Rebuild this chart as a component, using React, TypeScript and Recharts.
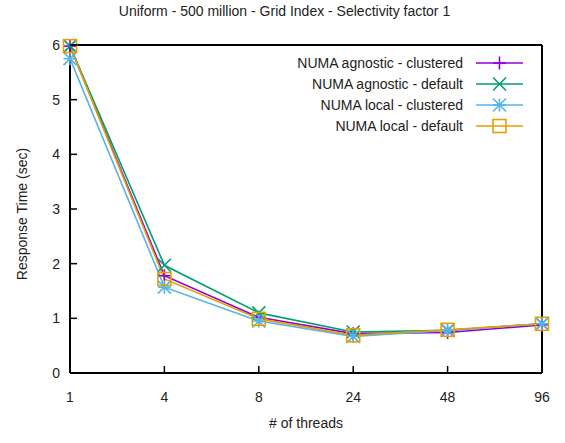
import { Line, LineChart, XAxis, YAxis } from "recharts";

const threads = ["1", "4", "8", "24", "48", "96"];
const agnosticClustered = [5.98, 1.78, 1.02, 0.72, 0.74, 0.88];
const agnosticDefault = [5.98, 1.97, 1.1, 0.75, 0.78, 0.9];
const localClustered = [5.75, 1.57, 0.95, 0.67, 0.78, 0.9];
const localDefault = [5.98, 1.72, 0.99, 0.69, 0.79, 0.9];
const yTicks = [0, 1, 2, 3, 4, 5, 6];

const seriesNames = [
  "NUMA agnostic - clustered",
  "NUMA agnostic - default",
  "NUMA local - clustered",
  "NUMA local - default"
];
const colors = ["#9400d3", "#009e73", "#56b4e9", "#e69f00"];
const markers = ["plus", "cross", "star", "square"];

const data = threads.map((t, i) => ({
  t,
  s0: agnosticClustered[i],
  s1: agnosticDefault[i],
  s2: localClustered[i],
  s3: localDefault[i]
}));

const FONT = "'Liberation Sans', Arial, sans-serif";

function Marker({ kind, x, y, color }: { kind: string; x: number; y: number; color: string }) {
  const r = 6.5;
  const sw = 1.6;
  if (kind === "plus") {
    return (
      <g stroke={color} strokeWidth={sw}>
        <line x1={x - r} y1={y} x2={x + r} y2={y} />
        <line x1={x} y1={y - r} x2={x} y2={y + r} />
      </g>
    );
  }
  if (kind === "cross") {
    return (
      <g stroke={color} strokeWidth={sw}>
        <line x1={x - r} y1={y - r} x2={x + r} y2={y + r} />
        <line x1={x - r} y1={y + r} x2={x + r} y2={y - r} />
      </g>
    );
  }
  if (kind === "star") {
    return (
      <g stroke={color} strokeWidth={sw}>
        <line x1={x - r} y1={y} x2={x + r} y2={y} />
        <line x1={x} y1={y - r} x2={x} y2={y + r} />
        <line x1={x - r} y1={y - r} x2={x + r} y2={y + r} />
        <line x1={x - r} y1={y + r} x2={x + r} y2={y - r} />
      </g>
    );
  }
  return (
    <rect x={x - r} y={y - r} width={2 * r} height={2 * r} fill="none" stroke={color} strokeWidth={sw} />
  );
}

function makeDot(idx: number) {
  return (props: any) => {
    const { cx, cy, index } = props;
    if (cx == null || cy == null) return <g key={index} />;
    return <Marker key={index} kind={markers[idx]} x={cx} y={cy} color={colors[idx]} />;
  };
}

function XTick(props: any) {
  const { x, y, payload } = props;
  return (
    <g>
      <line x1={x} y1={y} x2={x} y2={y - 7} stroke="#000" strokeWidth={1.5} />
      <text x={x} y={y + 29} textAnchor="middle" fontFamily={FONT} fontSize={14} fill="#222">
        {payload.value}
      </text>
    </g>
  );
}

function YTick(props: any) {
  const { x, y, payload } = props;
  return (
    <g>
      <line x1={x} y1={y} x2={x + 7} y2={y} stroke="#000" strokeWidth={1.5} />
      <text x={x - 10} y={y + 5} textAnchor="end" fontFamily={FONT} fontSize={14} fill="#222">
        {payload.value}
      </text>
    </g>
  );
}

function LegendBox() {
  return (
    <svg width={300} height={90} style={{ position: "absolute", left: 270, top: 45 }}>
      {seriesNames.map((name, i) => {
        const y = 18 + i * 21;
        return (
          <g key={name}>
            <text x={193} y={y + 5} textAnchor="end" fontFamily={FONT} fontSize={14} fill="#222">
              {name}
            </text>
            <line x1={206} y1={y} x2={253} y2={y} stroke={colors[i]} strokeWidth={1.6} />
            <Marker kind={markers[i]} x={229.5} y={y} color={colors[i]} />
          </g>
        );
      })}
    </svg>
  );
}

export default function App() {
  return (
    <div style={{ position: "absolute", left: 0, top: 0, width: 565, height: 443, background: "#fff" }}>
      <div
        style={{
          position: "absolute",
          left: 0,
          width: 565,
          top: 3,
          textAlign: "center",
          fontFamily: FONT,
          fontSize: 14,
          color: "#222",
          paddingLeft: 2
        }}
      >
        Uniform - 500 million - Grid Index - Selectivity factor 1
      </div>
      <div
        style={{
          position: "absolute",
          left: 70,
          width: 472,
          top: 415,
          textAlign: "center",
          fontFamily: FONT,
          fontSize: 14,
          color: "#222"
        }}
      >
        # of threads
      </div>
      <div
        style={{
          position: "absolute",
          left: 22,
          top: 214,
          transform: "translate(-50%, -50%) rotate(-90deg)",
          whiteSpace: "nowrap",
          fontFamily: FONT,
          fontSize: 14,
          color: "#222"
        }}
      >
        Response Time (sec)
      </div>
      <LineChart
        width={565}
        height={443}
        data={data}
        margin={{ top: 44, right: 22, bottom: 69, left: 69 }}
      >
        <XAxis
          dataKey="t"
          height={1}
          axisLine={{ stroke: "#000", strokeWidth: 2 }}
          tickLine={false}
          tickSize={0}
          tickMargin={0}
          tick={<XTick />}
          interval={0}
        />
        <XAxis
          xAxisId="top"
          dataKey="t"
          orientation="top"
          height={1}
          axisLine={{ stroke: "#000", strokeWidth: 2 }}
          tickLine={false}
          tick={false}
        />
        <YAxis
          width={1}
          domain={[0, 6]}
          ticks={yTicks}
          axisLine={{ stroke: "#000", strokeWidth: 2 }}
          tickLine={false}
          tickSize={0}
          tickMargin={0}
          tick={<YTick />}
          interval={0}
        />
        <YAxis
          yAxisId="right"
          orientation="right"
          width={1}
          domain={[0, 6]}
          axisLine={{ stroke: "#000", strokeWidth: 2 }}
          tickLine={false}
          tick={false}
        />
        {[0, 1, 2, 3].map((i) => (
          <Line
            key={i}
            type="linear"
            dataKey={`s${i}`}
            name={seriesNames[i]}
            stroke={colors[i]}
            strokeWidth={1.6}
            dot={makeDot(i)}
            activeDot={false}
            isAnimationActive={false}
          />
        ))}
      </LineChart>
      <LegendBox />
    </div>
  );
}
